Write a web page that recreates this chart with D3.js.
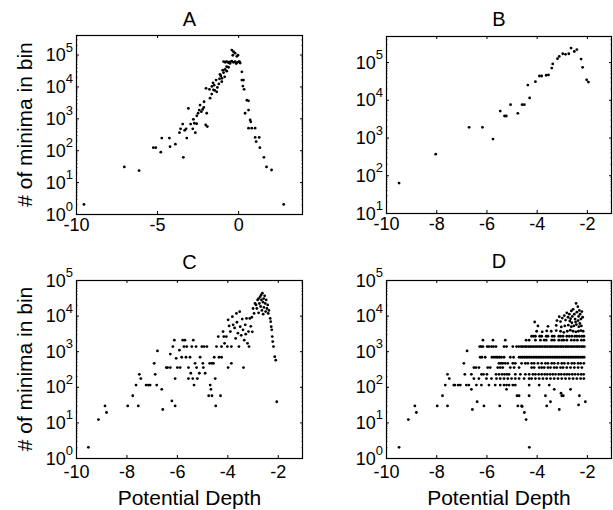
<!DOCTYPE html>
<html><head><meta charset="utf-8">
<script src="https://cdn.jsdelivr.net/npm/d3@7"></script>
<style>body{margin:0;background:#fff}svg{display:block;font-family:"Liberation Sans",Arial,Helvetica,sans-serif}</style>
</head><body><svg width="613" height="510"></svg>
<script>
// ---- data: [potential depth, # of minima in bin] ----
const panelA = [[-9.51,2],[-7.02,30],[-6.11,23],[-5.23,120],[-5.08,120],[-4.77,87],[-4.71,240],[-4.24,240],[-4.20,129],[-3.87,155],
[-3.62,355],[-3.55,468],[-3.38,60],[-3.42,660],[-3.21,468],[-3.17,240],[-3.07,2040],[-2.93,660],[-2.80,468],[-2.76,933],
[-2.64,355],[-2.56,676],[-2.47,1445],[-2.40,1820],[-2.27,1620],[-2.19,1905],[-2.10,3310],[-2.00,617],[-1.94,1445],[-1.90,550],
[-1.98,8700],[-1.77,8130],[-1.73,4270],[-1.63,5750],[-1.52,7760],[-1.48,10960],[-1.32,6760],[-1.28,9330],[-1.36,15850],[-1.15,17380],
[-1.07,21380],[-0.95,32360],[-1.01,14130],[-0.83,19950],[-0.79,57540],[-0.71,41690],[-0.60,57540],[-0.50,52480],[-0.39,138000],[-0.29,123000],
[-0.01,95500],[0.09,58900],[0.23,28800],[0.23,15850],[0.33,15850],[0.29,10230],[0.37,8130],[0.54,3720],[0.64,3550],[0.43,1445],
[0.64,1820],[0.74,891],[0.78,776],[0.64,490],[0.84,490],[1.05,490],[1.05,251],[1.30,251],[1.11,186],[1.34,120],
[1.59,60],[1.75,30],[2.06,24],[2.81,2],
[-0.90,60000],[-0.80,58000],[-0.70,60000],[-0.60,56000],[-0.49,59000],[-0.39,62000],[-0.29,57000],[-0.19,60000],[-0.12,52000],[-0.04,57000],
[0.05,60000],[0.13,54000],[-0.33,95000],[-0.19,110000],[-0.08,88000],[-1.62,10000],[-1.55,13000],[-1.44,7500],[-1.19,12000],[-1.12,24000],
[-1.00,18000],[-0.90,27000],[-0.80,34000],[-0.70,30000],[-0.59,40000],[-2.35,2600],[-2.12,2200],[-2.55,1200],[-2.70,700],[-3.30,420]];

const panelB = [[-9.48,62],[-8.02,363],[-6.69,1860],[-6.16,1860],[-5.74,912],[-5.45,5010],[-5.28,3720],[-5.21,3720],[-5.04,7410],[-4.75,4370],
[-4.58,7410],[-4.49,7410],[-4.35,24550],[-4.28,11220],[-4.05,30200],[-3.89,42660],[-3.80,42660],[-3.62,44670],[-3.53,45700],[-3.40,69180],
[-3.36,89130],[-3.17,123000],[-3.10,141250],[-2.96,166000],[-2.85,160000],[-2.72,166000],[-2.63,234400],[-2.50,190500],[-2.40,213800],[-2.23,120000],
[-2.17,72440],[-2.01,33900],[-1.94,29500]];

const panelC = [[-9.51,2],[-9.11,12],[-8.85,29],[-8.79,19],[-7.95,29],[-7.75,56],[-7.53,29],[-7.62,112],[-7.49,224],[-7.43,170],
[-7.22,112],[-7.13,112],[-7.06,112],[-6.90,457],[-6.86,224],[-6.80,112],[-6.77,1020],[-6.60,85],[-6.56,23],[-6.42,347],
[-6.37,347],[-6.26,347],[-6.26,830],[-6.20,40],[-6.16,1350],[-6.10,2040],[-6.07,170],[-6.07,29],[-6.03,630],[-5.98,347],
[-5.90,1070],[-5.87,347],[-5.81,676],[-5.77,2040],[-5.72,1350],[-5.68,2040],[-5.64,676],[-5.61,1350],[-5.54,347],[-5.54,170],
[-5.48,676],[-5.45,240],[-5.41,1350],[-5.37,170],[-5.35,2040],[-5.32,112],[-5.28,457],[-5.24,1350],[-5.22,347],[-5.19,170],
[-5.11,240],[-5.08,676],[-5.01,1350],[-4.97,457],[-4.95,347],[-4.92,1350],[-4.88,240],[-4.81,1350],[-4.74,56],[-4.70,457],
[-4.68,112],[-4.65,85],[-4.61,56],[-4.61,457],[-4.55,457],[-4.48,170],[-4.46,29],[-4.52,676],[-4.43,1350],[-4.36,2570],
[-4.33,676],[-4.27,56],[-4.23,676],[-4.23,1350],[-4.17,3550],[-4.14,2570],[-4.11,1660],[-4.04,2570],[-4.00,1350],[-3.97,347],
[-3.97,7590],[-3.93,5130],[-3.88,3550],[-3.84,1350],[-3.84,457],[-3.80,9330],[-3.77,5500],[-3.71,4500],[-3.67,2290],[-3.64,11500],
[-3.62,6500],[-3.58,3200],[-3.54,1350],[-3.51,12900],[-3.49,4900],[-3.45,2800],[-3.41,8000],[-3.38,3980],[-3.36,347],[-3.33,2040],
[-3.29,5500],[-3.27,3000],[-3.24,8320],[-3.20,1660],[-3.16,3550],[-3.14,1350],[-3.11,8320],[-3.07,5000],[-3.03,9000],[-3.01,3500],
[-2.98,15850],[-2.94,11500],[-2.90,21900],[-2.86,20000],[-2.83,15850],[-2.80,27500],[-2.76,12000],[-2.76,30000],[-2.73,21900],[-2.70,33900],
[-2.68,18000],[-2.66,38000],[-2.65,27500],[-2.63,14000],[-2.61,42700],[-2.59,24000],[-2.58,11000],[-2.56,30000],[-2.55,17000],[-2.52,36000],
[-2.50,22000],[-2.48,13000],[-2.46,27500],[-2.43,15850],[-2.40,20000],[-2.38,11500],[-2.35,14000],[-2.30,8320],[-2.28,6760],[-2.26,4900],
[-2.24,3980],[-2.22,2570],[-2.20,1860],[-2.17,1350],[-2.12,700],[-2.08,560],[-2.04,38]];

const panelD = [[-9.48,2],[-9.11,12],[-8.85,29],[-8.79,19],[-7.96,29],[-7.75,56],[-7.55,29],[-7.64,112],[-7.55,224],[-7.48,170],
[-7.26,112],[-7.13,112],[-7.04,112],[-6.90,457],[-6.86,224],[-6.80,112],[-6.77,1020],[-6.60,85],[-6.56,23],[-6.37,38],[-6.10,29],[-5.47,29],
[-4.58,28],[-4.49,19],[-4.42,12],[-4.29,2],[-3.45,38],[-3.10,23],[-2.94,56],[-4.08,6600],
// 1350 band
[-6.27,1350],[-6.21,1350],[-6.14,1350],[-5.97,1350],[-5.90,1350],[-5.80,1350],[-5.72,1350],[-5.62,1350],[-5.30,1350],[-5.20,1350],
[-4.95,1350],[-4.80,1350],[-4.71,1350],[-4.62,1350],[-4.55,1350],[-4.47,1350],[-4.41,1350],[-4.33,1350],[-4.26,1350],[-4.19,1350],
[-4.12,1350],[-4.04,1350],[-3.98,1350],[-3.90,1350],[-3.84,1350],[-3.77,1350],[-3.69,1350],[-3.63,1350],[-3.56,1350],[-3.48,1350],
[-3.42,1350],[-3.35,1350],[-3.27,1350],[-3.21,1350],[-3.14,1350],[-3.06,1350],[-3.00,1350],[-2.93,1350],[-2.85,1350],[-2.79,1350],
[-2.72,1350],[-2.64,1350],[-2.58,1350],[-2.51,1350],[-2.43,1350],[-2.37,1350],[-2.30,1350],[-2.22,1350],[-2.16,1350],[-2.10,1350],
// 676 band
[-6.25,676],[-6.18,676],[-6.05,676],[-5.78,676],[-5.70,676],[-5.62,676],[-5.55,676],[-5.47,676],[-5.40,676],[-5.30,676],
[-5.05,676],[-4.92,676],[-4.70,676],[-4.63,676],[-4.56,676],[-4.49,676],[-4.42,676],[-4.35,676],[-4.28,676],[-4.21,676],
[-4.14,676],[-4.07,676],[-4.00,676],[-3.93,676],[-3.86,676],[-3.79,676],[-3.72,676],[-3.65,676],[-3.58,676],[-3.51,676],
[-3.44,676],[-3.37,676],[-3.30,676],[-3.23,676],[-3.16,676],[-3.09,676],[-3.02,676],[-2.95,676],[-2.88,676],[-2.81,676],
[-2.74,676],[-2.67,676],[-2.60,676],[-2.53,676],[-2.46,676],[-2.39,676],[-2.32,676],[-2.25,676],[-2.18,676],[-2.11,676],
// 2040 band (partial)
[-6.14,2040],[-5.74,2040],[-5.25,2040],[-4.42,2040],[-4.30,2040],[-4.05,2040],[-3.85,2040],[-3.70,2040],[-3.62,2040],
[-3.40,2040],[-3.30,2040],[-3.12,2040],[-3.00,2040],[-2.92,2040],[-2.80,2040],[-2.62,2040],[-2.50,2040],[-2.38,2040],[-2.22,2040],[-2.12,2040],
// 2630 level
[-4.20,2630],[-4.12,2630],[-4.05,2630],[-3.88,2630],[-3.80,2630],[-3.62,2630],[-3.55,2630],[-3.38,2630],[-3.30,2630],[-3.12,2630],
[-3.05,2630],[-2.95,2630],[-2.80,2630],[-2.70,2630],[-2.60,2630],[-2.48,2630],[-2.40,2630],[-2.30,2630],[-2.20,2630],[-2.12,2630],
// ~3600 level
[-4.00,3630],[-3.78,3500],[-3.60,3700],[-3.42,3630],[-3.22,3800],[-3.05,3630],[-2.92,3400],[-2.78,3630],[-2.66,3900],[-2.55,3630],
[-2.44,3500],[-2.34,3630],[-2.24,3800],[-2.15,3630],
// ~5000 level and upper cluster
[-3.95,5130],[-3.55,5000],[-3.22,5300],[-3.02,4800],[-2.88,5130],[-2.74,5400],[-2.62,4900],[-2.52,5130],[-2.42,5600],[-2.32,4900],
[-2.22,5130],[-3.19,7240],[-3.10,9330],[-3.05,6800],[-2.98,8500],[-2.90,10000],[-2.85,7500],[-2.80,12000],[-2.75,9000],[-2.70,11000],
[-2.68,7000],[-2.62,13500],[-2.58,9500],[-2.55,15000],[-2.50,11000],[-2.47,8000],[-2.43,22000],[-2.40,12500],[-2.36,17800],[-2.33,9500],
[-2.30,14000],[-2.27,11000],[-2.24,8000],[-2.20,13000],[-2.17,9000],[-2.60,6300],[-2.45,6600],[-2.35,7200],[-2.28,6000],[-2.65,8200],
// 457 band
[-5.50,457],[-5.42,457],[-5.35,457],[-5.25,457],[-5.15,457],[-4.95,457],[-4.85,457],[-4.60,457],[-4.45,457],[-4.35,457],
[-4.20,457],[-4.10,457],[-3.95,457],[-3.80,457],[-3.65,457],[-3.55,457],[-3.40,457],[-3.30,457],[-3.15,457],[-3.00,457],
[-2.90,457],[-2.75,457],[-2.60,457],[-2.50,457],[-2.35,457],[-2.25,457],[-2.12,457],
// 347 band
[-6.50,347],[-6.42,347],[-6.30,347],[-5.95,347],[-5.85,347],[-5.55,347],[-5.45,347],[-5.35,347],[-5.05,347],[-4.90,347],
[-4.70,347],[-4.20,347],[-4.10,347],[-3.90,347],[-3.80,347],[-3.70,347],[-3.55,347],[-3.45,347],[-3.30,347],[-3.20,347],
[-3.05,347],[-2.95,347],[-2.80,347],[-2.65,347],[-2.50,347],[-2.35,347],[-2.20,347],
// 224 band
[-6.60,224],[-6.20,224],[-6.12,224],[-5.98,224],[-5.62,224],[-5.50,224],[-5.38,224],[-5.28,224],[-5.18,224],[-5.10,224],
[-4.85,224],[-4.65,224],[-4.45,224],[-4.30,224],[-4.15,224],[-4.05,224],[-3.92,224],[-3.80,224],[-3.68,224],[-3.58,224],
[-3.47,224],[-3.36,224],[-3.25,224],[-3.12,224],[-3.02,224],[-2.90,224],[-2.80,224],[-2.70,224],[-2.58,224],[-2.47,224],
[-2.35,224],[-2.23,224],[-2.13,224],
// 170 band
[-6.50,170],[-6.30,170],[-6.00,170],[-5.80,170],[-5.60,170],[-5.45,170],[-5.30,170],[-5.15,170],[-5.00,170],[-4.85,170],
[-4.70,170],[-4.50,170],[-4.30,170],[-4.20,170],[-4.05,170],[-3.90,170],[-3.75,170],[-3.60,170],[-3.45,170],[-3.30,170],
[-3.15,170],[-3.00,170],[-2.85,170],[-2.70,170],[-2.55,170],[-2.40,170],[-2.25,170],[-2.12,170],
// 112 band
[-7.30,112],[-6.70,112],[-6.40,112],[-6.20,112],[-5.90,112],[-5.65,112],[-5.45,112],[-5.30,112],[-5.20,112],[-5.10,112],
[-4.95,112],[-4.85,112],[-4.30,112],[-3.90,112],[-3.50,112],
// low scattered
[-5.20,85],[-3.30,85],[-2.65,85],[-4.78,56],[-4.70,56],[-4.30,56],[-3.65,56],[-3.00,56],[-2.30,56],[-4.75,29],[-4.60,29],[-3.60,29],
[-3.03,66],[-2.33,31],[-2.06,38]];

const xTicksA = [-10,-5,0];
const xTicksB = [-10,-8,-6,-4,-2];
const yTicks = [1,10,100,1e3,1e4,1e5];
const titles = ["A","B","C","D"];
const xLabel = "Potential Depth";
const yLabel = "# of minima in bin";

// ---- layout ----
const panels = [
  {title:titles[0], data:panelA, xd:[-10,4], xt:xTicksA, yd:[1,4.1e5], box:[76,303,35,214], ylab:true,  xlab:false, tb:26,  lb:17},
  {title:titles[1], data:panelB, xd:[-10,-1], xt:xTicksB, yd:[10,4.9e5], box:[386,612,36,213], ylab:false, xlab:false, tb:26, lb:17},
  {title:titles[2], data:panelC, xd:[-10,-1], xt:xTicksB, yd:[1,1e5], box:[76,303,280,458], ylab:true,  xlab:true, tb:269, lb:20},
  {title:titles[3], data:panelD, xd:[-10,-1], xt:xTicksB, yd:[1,1e5], box:[386,612,280,458], ylab:false, xlab:true, tb:268, lb:20}
];

const svg = d3.select("svg");
panels.forEach(p => {
  const [L,R,T,B] = p.box;
  const x = d3.scaleLinear().domain(p.xd).range([L,R]);
  const y = d3.scaleLog().domain(p.yd).range([B,T]);
  const g = svg.append("g");
  const majors = yTicks.filter(v => v >= p.yd[0]*0.999 && v <= p.yd[1]);
  const minors = [];
  for (let k = -1; k <= 6; k++) for (let m = 2; m <= 9; m++) {
    const v = m * Math.pow(10,k);
    if (v > p.yd[0] && v < p.yd[1]) minors.push(v);
  }
  const xb = g.append("g").attr("transform",`translate(0,${B})`)
    .call(d3.axisBottom(x).tickValues(p.xt).tickSize(-3).tickPadding(p.lb-12.8).tickFormat(d=>String(d)));
  xb.select(".domain").remove();
  xb.selectAll("text").attr("font-size",18).attr("font-family","Liberation Sans, Arial, sans-serif").attr("fill","#000");
  xb.selectAll("line").attr("stroke","#000");
  const xt = g.append("g").attr("transform",`translate(0,${T})`)
    .call(d3.axisTop(x).tickValues(p.xt.filter(v=>v>p.xd[0])).tickSize(-3).tickFormat(""));
  xt.select(".domain").remove();
  [[d3.axisLeft,L],[d3.axisRight,R]].forEach(([ax,pos]) => {
    const a = g.append("g").attr("transform",`translate(${pos},0)`)
      .call(ax(y).tickValues(majors).tickSize(-3).tickFormat(""));
    a.select(".domain").remove();
    a.selectAll("line").attr("stroke","#000");
    const m = g.append("g").attr("transform",`translate(${pos},0)`)
      .call(ax(y).tickValues(minors).tickSize(-1.5).tickFormat(""));
    m.select(".domain").remove();
    m.selectAll("line").attr("stroke","#000").attr("stroke-width",0.7);
  });
  majors.forEach(v => {
    const t = g.append("text").attr("x",L-3).attr("y",y(v)+6.5)
      .attr("text-anchor","end").attr("font-size",18).attr("fill","#000");
    t.append("tspan").text("10");
    t.append("tspan").attr("font-size",13).attr("dy",-9.5).text(String(Math.round(Math.log10(v))));
  });
  g.append("g").selectAll("circle").data(p.data).join("circle")
    .attr("cx",d=>x(d[0])).attr("cy",d=>y(d[1])).attr("r",1.4).attr("fill","#000");
  g.append("rect").attr("x",L+0.5).attr("y",T+0.5).attr("width",R-L-1).attr("height",B-T)
    .attr("fill","none").attr("stroke","#000").attr("stroke-width",1.2);
  g.append("text").attr("x",(L+R)/2).attr("y",p.tb).attr("text-anchor","middle")
    .attr("font-size",20).attr("fill","#000").text(p.title);
  if (p.xlab) g.append("text").attr("x",(L+R)/2).attr("y",505).attr("text-anchor","middle")
    .attr("font-size",21).attr("fill","#000").text(xLabel);
  if (p.ylab) g.append("text").attr("transform",`translate(32,${(T+B)/2}) rotate(-90)`)
    .attr("text-anchor","middle").attr("font-size",21).attr("fill","#000").text(yLabel);
});
</script></body></html>
